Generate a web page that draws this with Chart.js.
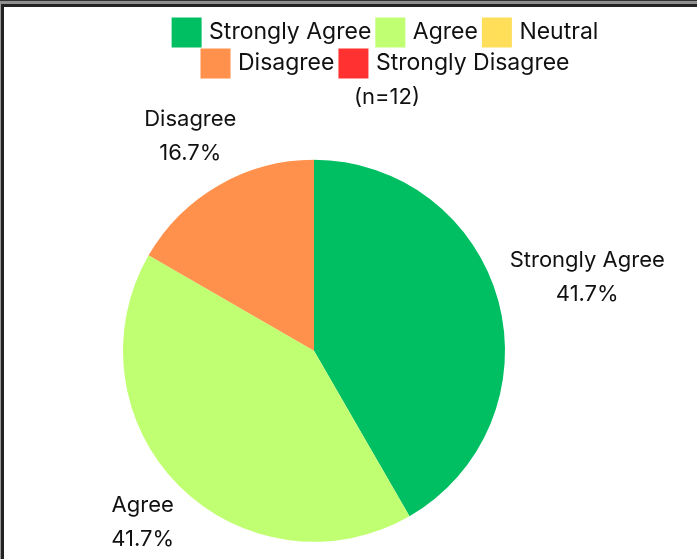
<!DOCTYPE html>
<html>
<head>
<meta charset="utf-8">
<title>Survey responses</title>
<script src="https://cdn.jsdelivr.net/npm/chart.js@4.4.1/dist/chart.umd.min.js"></script>
<style>
  html, body { margin: 0; padding: 0; background: #fff; overflow: hidden; }
  #wrap { position: relative; width: 697px; height: 559px; }
  .edge { position: absolute; }
</style>
</head>
<body>
<div id="wrap">
  <canvas id="mycanvas"></canvas>
  <!-- frame lines along the top and left -->
  <div class="edge" style="left:0;top:0;width:697px;height:1px;background:#333;"></div>
  <div class="edge" style="left:0;top:1px;width:697px;height:3px;background:#8f8f8f;"></div>
  <div class="edge" style="left:0;top:4px;width:697px;height:3px;background:#222;"></div>
  <div class="edge" style="left:0;top:4px;width:1px;height:555px;background:#999;"></div>
  <div class="edge" style="left:1px;top:4px;width:3px;height:555px;background:#222;"></div>
</div>
<script>
var categories = ['Strongly Agree', 'Agree', 'Neutral', 'Disagree', 'Strongly Disagree'];
var responses = [5, 5, 0, 2, 0];
var sliceColors = ['#00bf63', '#c1ff72', '#ffde59', '#ff914d', '#ff3131'];

var total = responses.reduce(function(a, b) { return a + b; }, 0);
var fontFamily = 'Inter, "Noto Sans", sans-serif';

// empty box on the right so the pie sits left of the legend's centre
var rightGap = {
	id: 'rightGap',
	beforeInit: function(chart, args, opts) {
		var box = {
			position: 'right', weight: 0, fullSize: false,
			options: {},
			left: 0, top: 0, right: 0, bottom: 0, width: 0, height: 0,
			isHorizontal: function() { return false; },
			update: function(maxWidth, maxHeight) {
				this.width = opts.width;
				this.height = maxHeight;
			},
			draw: function() {}
		};
		Chart.layouts.addBox(chart, box);
	}
};

// category name and percentage outside each slice
var outsideLabels = {
	id: 'outsideLabels',
	afterDatasetsDraw: function(chart, args, opts) {
		var ctx = chart.ctx;
		var meta = chart.getDatasetMeta(0);
		var data = chart.data.datasets[0].data;
		ctx.save();
		ctx.font = opts.size + 'px ' + fontFamily;
		ctx.fillStyle = opts.color;
		ctx.textAlign = 'center';
		ctx.textBaseline = 'middle';
		meta.data.forEach(function(arc, i) {
			if (!data[i]) return;
			var p = arc.getProps(['x', 'y', 'startAngle', 'endAngle', 'outerRadius'], true);
			var mid = (p.startAngle + p.endAngle) / 2;
			var dx = Math.cos(mid), dy = Math.sin(mid);
			var lines = [chart.data.labels[i], (data[i] / total * 100).toFixed(1) + '%'];
			var w = Math.max(ctx.measureText(lines[0]).width, ctx.measureText(lines[1]).width);
			var h = opts.lineHeight + opts.size * 0.9;
			var reach = Math.abs(dx) * w / 2 + Math.abs(dy) * h / 2;
			var d = p.outerRadius + opts.offset + reach;
			var cx = p.x + dx * d, cy = p.y + dy * d;
			ctx.fillText(lines[0], cx, cy - opts.lineHeight / 2);
			ctx.fillText(lines[1], cx, cy + opts.lineHeight / 2);
		});
		ctx.restore();
	}
};

// legend squares: small box plus a same-colour outline, keeps rows tight
function legendItems(chart) {
	var items = Chart.overrides.doughnut.plugins.legend.labels.generateLabels(chart);
	items.forEach(function(it) {
		it.strokeStyle = it.fillStyle;
		it.lineWidth = 8;
	});
	return items;
}

var ctx = document.getElementById('mycanvas');

var pieChart = new Chart(ctx, {
	type: 'pie',
	data: {
		labels: categories,
		datasets: [{
			data: responses,
			backgroundColor: sliceColors,
			borderWidth: 0,
			radius: 191
		}]
	},
	options: {
		responsive: true,
		maintainAspectRatio: false,
		animation: false,
		layout: { padding: { top: 13, left: 117, right: 40, bottom: 0 } },
		plugins: {
			legend: {
				position: 'top',
				labels: {
					boxWidth: 22,
					boxHeight: 22,
					padding: 8,
					color: '#111',
					font: { family: fontFamily, size: 23 },
					generateLabels: legendItems
				}
			},
			title: {
				display: true,
				text: '(n=' + total + ')',
				weight: 500,
				color: '#111',
				font: { family: fontFamily, size: 22, weight: 'normal', lineHeight: 0.8 },
				padding: { top: 4, bottom: 36 }
			},
			tooltip: { enabled: false },
			rightGap: { width: 146 },
			outsideLabels: { size: 22, lineHeight: 34, offset: 10, color: '#111' }
		}
	},
	plugins: [rightGap, outsideLabels]
});
</script>
</body>
</html>
